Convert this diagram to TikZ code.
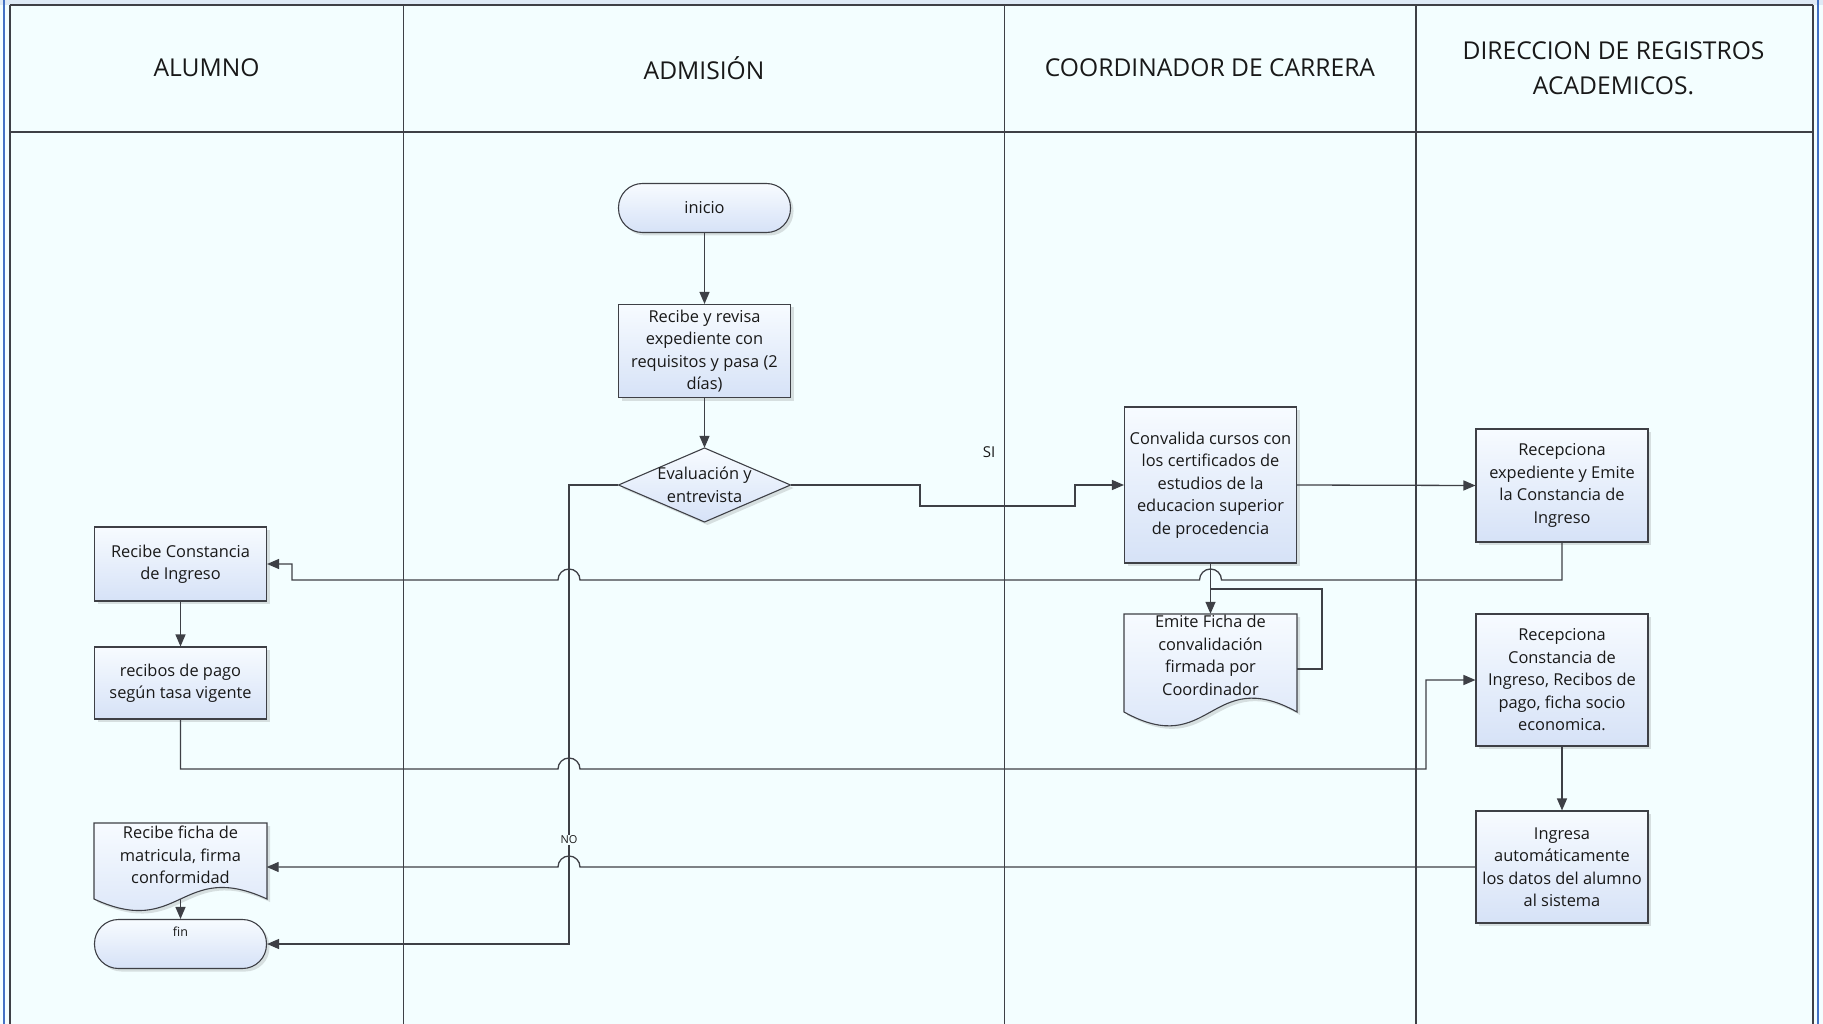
\documentclass[tikz,border=0pt]{standalone}
\usepackage{fontspec}
\setmainfont{Open Sans}
\usetikzlibrary{arrows.meta,shadows}
\definecolor{bgc}{RGB}{243,254,255}
\definecolor{linec}{RGB}{62,64,70}
\definecolor{txtc}{RGB}{25,25,25}
\definecolor{boxtop}{RGB}{247,251,255}
\definecolor{boxbot}{RGB}{214,226,247}
\definecolor{edgeblue}{RGB}{68,114,196}
\definecolor{topstrip}{RGB}{222,234,246}
\newcommand\boxfont{\fontsize{16.4}{22.5}\selectfont}
\newcommand\hdrfont{\fontsize{24.6}{35}\selectfont}
\begin{document}
\begin{tikzpicture}[x=1pt,y=-1pt,
  shadowed/.style={drop shadow={shadow xshift=3pt,shadow yshift=-3pt,opacity=0.2,fill=black!60}},
  shapefill/.style={draw=linec,line width=1.1pt,top color=boxtop,bottom color=boxbot,shadowed},
  box/.style={shapefill,rectangle,minimum width=172pt,inner sep=0pt,align=center,font=\boxfont,text=txtc},
  term/.style={box,rounded corners=24pt,minimum height=49pt},
  txtnode/.style={rectangle,draw=none,minimum width=172pt,inner sep=0pt,align=center,font=\boxfont,text=txtc},
  lane/.style={draw=linec,line width=1.3pt},
  conn/.style={draw=linec,line width=1.3pt},
  flow/.style={conn,-{Triangle[length=12pt,width=10pt]}},
  hdr/.style={font=\hdrfont,text=txtc,align=center},
]
\useasboundingbox (0,0) rectangle (1823,1024);
% background and frame
\fill[bgc] (0,0) rectangle (1823,1024);
\fill[topstrip] (0,0) rectangle (1823,5);
\draw[edgeblue,line width=2pt] (4,0) -- (4,1024);
\draw[edgeblue,line width=2pt] (1818,0) -- (1818,1024);
\draw[lane,line width=2.2pt] (10,5) -- (10,1024);
\draw[lane,line width=2.2pt] (1813,5) -- (1813,1024);
\draw[lane,line width=1.8pt] (10,5) -- (1813,5);
\draw[lane,line width=1.8pt] (10,132) -- (1813,132);
\draw[lane] (403.5,5) -- (403.5,1024);
\draw[lane] (1004.5,5) -- (1004.5,1024);
\draw[lane] (1416,5) -- (1416,1024);
% headers
\node[hdr] (h1) at (206.5,68) {ALUMNO};
\node[hdr] (h2) at (704,68) {ADMISIÓN};
\node[hdr] (h3) at (1210,68) {COORDINADOR DE CARRERA};
\node[hdr] (h4) at (1613.5,68) {DIRECCION DE REGISTROS\\ACADEMICOS.};
% shapes drawn by path
\path[shapefill] (704.5,448) -- (790.5,485) -- (704.5,522) -- (618.5,485) -- cycle;
\path[shapefill] (1124,614) -- (1297,614) -- (1297,712) .. controls (1210.5,664) and (1210.5,760) .. (1124,712) -- cycle;
\path[shapefill] (94,823) -- (267,823) -- (267,899) .. controls (180.5,859) and (180.5,939) .. (94,899) -- cycle;
% nodes
\node[term] (inicio) at (704.5,208) {inicio};
\node[box,minimum height=93pt] (revisa) at (704.5,351) {Recibe y revisa\\expediente con\\requisitos y pasa (2\\días)};
\node[txtnode,minimum height=74pt] (eval) at (704.5,485) {Evaluación y\\entrevista};
\node[box,minimum height=156pt] (conv) at (1210.5,485) {Convalida cursos con\\los certificados de\\estudios de la\\educacion superior\\de procedencia};
\node[txtnode,minimum height=83pt] (emite) at (1210.5,655.5) {Emite Ficha de\\convalidación\\firmada por\\Coordinador};
\node[box,minimum height=113pt] (rexp) at (1562,485.5) {Recepciona\\expediente y Emite\\la Constancia de\\Ingreso};
\node[box,minimum height=132pt] (rcons2) at (1562,680) {Recepciona\\Constancia de\\Ingreso, Recibos de\\pago, ficha socio\\economica.};
\node[box,minimum height=112pt] (ingresa) at (1562,867) {Ingresa\\automáticamente\\los datos del alumno\\al sistema};
\node[box,minimum height=74pt] (rconst) at (180.5,564) {Recibe Constancia\\de Ingreso};
\node[box,minimum height=72pt] (recibos) at (180.5,683) {recibos de pago\\según tasa vigente};
\node[txtnode,minimum height=64pt] (ficha) at (180.5,855) {Recibe ficha de\\matricula, firma\\conformidad};
\node[term,font=\fontsize{12.5}{14}\selectfont,text height=9pt,text depth=24pt] (fin) at (180.5,944) {fin};
% connectors
\draw[flow] (inicio.south) -- (revisa.north);
\draw[flow] (revisa.south) -- (eval.north);
\draw[flow] (eval.east) -- (920,485) -- (920,506) -- (1075,506) -- (1075,485) -- (conv.west);
\node[font=\fontsize{15}{17}\selectfont,text=txtc] (si) at (989,452) {SI};
\draw[flow] (conv.east) -- (rexp.west);
\draw[flow] (conv.south) -- (emite.north);
\draw[conn] ([yshift=-13.5pt]emite.east) -- (1322,669) -- (1322,589) -- (1210.5,589);
\draw[flow] (rexp.south) -- (1562,580) -- (1221.5,580) arc[start angle=0,end angle=180,radius=11pt] -- (580,580) arc[start angle=0,end angle=180,radius=11pt] -- (292,580) -- (292,564) -- (rconst.east);
\draw[flow] (rconst.south) -- (recibos.north);
\draw[flow] (recibos.south) -- (180.5,769) -- (558,769) arc[start angle=180,end angle=0,radius=11pt] -- (1426,769) -- (1426,680) -- (rcons2.west);
\draw[flow] (rcons2.south) -- (ingresa.north);
\draw[flow] (ingresa.west) -- (580,867) arc[start angle=0,end angle=180,radius=11pt] -- (ficha.east |- ingresa.west);
\draw[flow] (eval.west) -- (569,485) -- (569,944) -- (fin.east);
\node[font=\fontsize{11}{13}\selectfont,text=txtc,fill=bgc,inner sep=1pt] (nolab) at (569,840) {NO};
\draw[flow] ([yshift=-12pt]ficha.south) -- (fin.north);
\end{tikzpicture}
\end{document}
